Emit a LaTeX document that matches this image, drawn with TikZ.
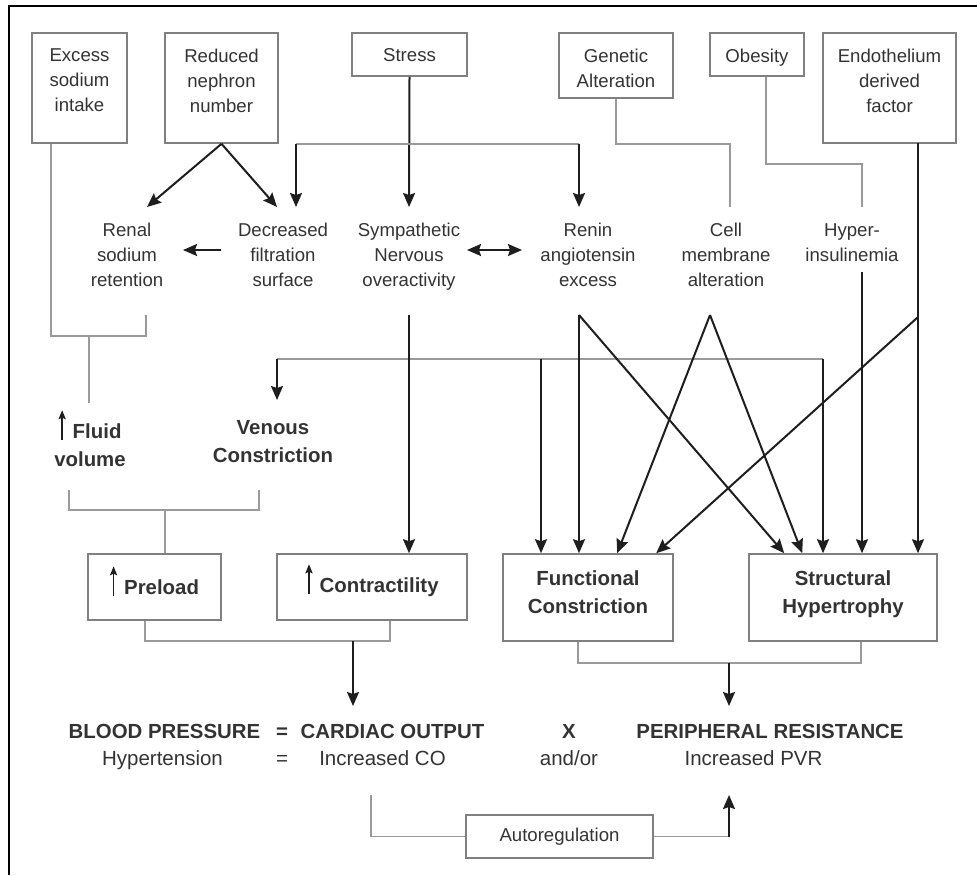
\documentclass[tikz,border=0pt]{standalone}
\usepackage{fontspec}
\setmainfont{Liberation Sans}
\usetikzlibrary{arrows.meta}

\definecolor{ink}{HTML}{1E1E1E}
\definecolor{boxgray}{HTML}{808080}
\definecolor{linkgray}{HTML}{9A9A9A}
\definecolor{textgray}{HTML}{333333}

% small rising arrow in front of a word
\newcommand{\uparr}{\smash{\tikz[baseline=0pt]\draw[line width=0.8pt,ink,-{Stealth[length=4.5pt,width=3.6pt,inset=0.8pt]}] (0,-1pt) -- (0,14pt);}\hspace{3.5pt}}

\tikzset{
  lbl/.style={align=center, inner sep=0pt, text=textgray, font=\fontsize{9.3}{12.5}\selectfont},
  boldlbl/.style={align=center, inner sep=0pt, text=textgray, font=\fontsize{10.2}{14}\selectfont\bfseries},
  src/.style={draw=boxgray, line width=0.8pt, inner sep=0pt},
  srctext/.style={lbl, anchor=north, yshift=-8.1pt},
  midtext/.style={boldlbl, anchor=north, yshift=-8.35pt},
  eqrm/.style={anchor=base, inner sep=0pt, text=textgray, font=\fontsize{10.25}{12}\selectfont},
  eqbf/.style={eqrm, font=\fontsize{10.2}{12}\selectfont\bfseries},
  link/.style={draw=linkgray, line width=0.75pt},
  arr/.style={draw=ink, line width=1pt, ->},
  frame/.style={draw=black, line width=1.2pt}
}

\begin{document}
\begin{tikzpicture}[x=0.5pt,y=-0.5pt,>={Stealth[length=7pt,width=6pt,inset=1pt]}]
\useasboundingbox (0,0) rectangle (977,875);
\draw[frame] (9,875) -- (9,6) -- (977,6);

% causes
\node[src, minimum width=47.5pt, minimum height=55pt, label={[srctext]north:Excess\\sodium\\intake}] (excess) at (79.5,88) {};
\node[src, minimum width=56.5pt, minimum height=55pt, label={[srctext]north:Reduced\\nephron\\number}] (nephron) at (221.5,88) {};
\node[src, minimum width=57.5pt, minimum height=21.5pt, label={[srctext]north:Stress}] (stress) at (409.5,54.5) {};
\node[src, minimum width=57pt, minimum height=32.5pt, label={[srctext]north:Genetic\\Alteration}] (genetic) at (616,65.5) {};
\node[src, minimum width=47pt, minimum height=21.5pt, label={[srctext]north:Obesity}] (obesity) at (757,54.5) {};
\node[src, minimum width=66.5pt, minimum height=55pt, label={[srctext]north:Endothelium\\derived\\factor}] (endo) at (889.5,88) {};

% mechanisms
\node[lbl, anchor=north] (renal) at (127,223) {Renal\\sodium\\retention};
\node[lbl, anchor=north] (decreased) at (283,223) {Decreased\\filtration\\surface};
\node[lbl, anchor=north] (symp) at (409,223) {Sympathetic\\Nervous\\overactivity};
\node[lbl, anchor=north] (renin) at (588,223) {Renin\\angiotensin\\excess};
\node[lbl, anchor=north] (cell) at (726,223) {Cell\\membrane\\alteration};
\node[lbl, anchor=north] (hyper) at (852,223) {Hyper-\\insulinemia};

\node[boldlbl, anchor=north] (fluid) at (90,423) {\uparr Fluid\\volume};
\node[boldlbl, anchor=north] (venous) at (273,420) {Venous\\Constriction};

% effects
\node[src, boldlbl, draw=boxgray, minimum width=66.5pt, minimum height=33pt] (preload) at (154.5,587) {\uparr Preload};
\node[src, boldlbl, draw=boxgray, minimum width=95pt, minimum height=33pt] (contract) at (372,587) {\uparr Contractility};
\node[src, minimum width=85pt, minimum height=43.5pt, label={[midtext]north:Functional\\Constriction}] (func) at (588,597.5) {};
\node[src, minimum width=94pt, minimum height=43.5pt, label={[midtext]north:Structural\\Hypertrophy}] (struct) at (843,597.5) {};

% equation
\node[eqbf] (bp) at (164.5,738) {BLOOD PRESSURE};
\node[eqbf] (eqa) at (282,738) {=};
\node[eqbf] (co) at (392.5,738) {CARDIAC OUTPUT};
\node[eqbf] (times) at (569,738) {X};
\node[eqbf] (pr) at (770,738) {PERIPHERAL RESISTANCE};
\node[eqrm] (hyp) at (162.5,765.5) {Hypertension};
\node[eqrm] (eqb) at (282,765.5) {=};
\node[eqrm] (ico) at (382.5,765.5) {Increased CO};
\node[eqrm] (andor) at (569,765.5) {and/or};
\node[eqrm] (ipvr) at (753.5,765.5) {Increased PVR};

\node[src, lbl, draw=boxgray, minimum width=93.5pt, minimum height=21.5pt] (autoreg) at (559.5,836.5) {Autoregulation};

% connector ends
\coordinate (renal in) at (147,207);
\coordinate (dec in) at (277,207);
\coordinate (dec top) at (296,207);
\coordinate (symp top) at (409,207);
\coordinate (renin top) at (579,207);
\coordinate (cell top) at (730,207);
\coordinate (hyper top) at (862,207);
\coordinate (dec left) at (221,250);
\coordinate (renal right) at (183,250);
\coordinate (symp right) at (467,250);
\coordinate (renin left) at (522,250);
\coordinate (renal foot) at (146,315);
\coordinate (fluid bar) at (89,336);
\coordinate (fluid top) at (89,403);
\coordinate (symp foot) at (409,315);
\coordinate (renin foot) at (579,315);
\coordinate (cell foot) at (710,315);
\coordinate (hyper foot) at (862,272);
\coordinate (endo foot) at (918,143);
\coordinate (endo knee) at (918,317);
\coordinate (bus left) at (277,359);
\coordinate (bus mid) at (541,359);
\coordinate (bus right) at (823,359);
\coordinate (ven top) at (277,400);
\coordinate (fluid foot) at (69,490);
\coordinate (ven foot) at (259,490);
\coordinate (pre bar) at (165,510);
\coordinate (co bar) at (353,641);
\coordinate (co top) at (353,706);
\coordinate (pr bar) at (729,663);
\coordinate (pr top) at (729,706);
\coordinate (co foot) at (371,795);
\coordinate (pr foot) at (729,795);

% upper connectors
\draw[arr] (nephron.south) -- (renal in);
\draw[arr] (nephron.south) -- (dec in);
\draw[arr] (stress.south) -- (symp top);
\draw[link] (dec top |- nephron.south) -- (renin top |- nephron.south);
\draw[arr] (dec top |- nephron.south) -- (dec top);
\draw[arr] (renin top |- nephron.south) -- (renin top);
\draw[link] (genetic.south) |- (cell top |- nephron.south) -- (cell top);
\draw[link] ([xshift=4.5pt]obesity.south) -- ++(0,87) -| (hyper top);
\draw[arr] (dec left) -- (renal right);
\draw[arr,<->] (symp right) -- (renin left);

% fluid side
\draw[link] ([xshift=10pt]excess.south west) |- (fluid bar) -| (renal foot);
\draw[link] (fluid bar) -- (fluid top);
\draw[link] (bus left) -- (bus right);
\draw[arr] (bus left) -- (ven top);
\draw[link] (fluid foot) |- (pre bar) -| (ven foot);
\draw[link] (pre bar) -- (pre bar |- preload.north);
\draw[arr] (symp foot) -- (symp foot |- contract.north);

% vascular side
\draw[arr] (bus mid) -- (bus mid |- func.north);
\draw[arr] (renin foot) -- (renin foot |- func.north);
\draw[arr] (cell foot) -- ([xshift=57.5pt]func.north west);
\draw[arr] (endo knee) -- ([xshift=77pt]func.north west);
\draw[arr] (renin foot) -- ([xshift=18pt]struct.north west);
\draw[arr] (cell foot) -- ([xshift=27pt]struct.north west);
\draw[arr] (bus right) -- (bus right |- struct.north);
\draw[arr] (hyper foot) -- (hyper foot |- struct.north);
\draw[arr] (endo foot) -- (endo foot |- struct.north);

% into the equation
\draw[link] ([xshift=29pt]preload.south west) |- (co bar) -| ([xshift=57pt]contract.south west);
\draw[arr] (co bar) -- (co top);
\draw[link] ([xshift=38pt]func.south west) |- (pr bar) -| ([xshift=56.5pt]struct.south west);
\draw[arr] (pr bar) -- (pr top);
\draw[link] (co foot) |- (autoreg.west);
\draw[link] (autoreg.east) -- (pr foot |- autoreg.east);
\draw[arr] (pr foot |- autoreg.east) -- (pr foot);
\end{tikzpicture}
\end{document}
